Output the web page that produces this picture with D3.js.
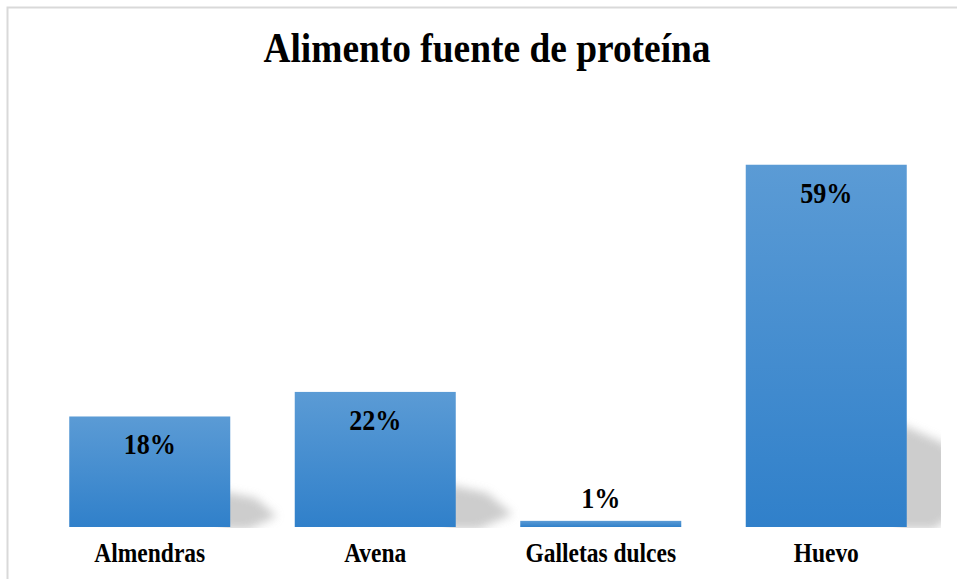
<!DOCTYPE html>
<html>
<head>
<meta charset="utf-8">
<script src="https://cdn.jsdelivr.net/npm/d3@7"></script>
<style>
  body { margin: 0; background: #fff; }
  svg { display: block; }
</style>
</head>
<body>
<svg id="chart" width="957" height="579"></svg>
<script>
// chart data
const categories = ["Almendras", "Avena", "Galletas dulces", "Huevo"];
const values = [18, 22, 1, 59];
const valueLabels = ["18%", "22%", "1%", "59%"];
const titleText = "Alimento fuente de proteína";

const width = 957, height = 579;
const font = "'Liberation Serif', 'Times New Roman', serif";
const svg = d3.select("#chart");

// the source text is drawn a bit narrow/tall, so squeeze it horizontally
const squeeze = 0.87;
function addText(parent, x, y, size, str) {
    return parent.append("text")
        .attr("transform", `translate(${x},${y}) scale(${squeeze},1)`)
        .attr("text-anchor", "middle")
        .attr("font-family", font)
        .attr("font-weight", "bold")
        .attr("font-size", size)
        .attr("fill", "#000")
        .text(str);
}

// frame (runs off the right and bottom edges like the source)
svg.append("rect")
    .attr("x", 7.5).attr("y", 7.5)
    .attr("width", 980).attr("height", 600)
    .attr("fill", "#fff")
    .attr("stroke", "#d9d9d9")
    .attr("stroke-width", 2);

const defs = svg.append("defs");
const grad = defs.append("linearGradient")
    .attr("id", "barGrad")
    .attr("x1", "0%").attr("y1", "0%")
    .attr("x2", "0%").attr("y2", "100%");
grad.append("stop").attr("offset", "0%").attr("stop-color", "#5b9bd5");
grad.append("stop").attr("offset", "100%").attr("stop-color", "#3080ca");

defs.append("filter").attr("id", "blur")
    .attr("x", "-50%").attr("y", "-50%").attr("width", "200%").attr("height", "200%")
    .append("feGaussianBlur").attr("stdDeviation", 5);

// scales
const x = d3.scaleBand()
    .domain(categories)
    .range([37, 939])
    .paddingInner(0.286)
    .paddingOuter(0.143);

const baseline = 527;
const y = d3.scaleLinear()
    .domain([0, 100])
    .range([baseline, baseline - 614]);

// title
addText(svg, 487, 62, 43, titleText);

const data = categories.map((c, i) => ({ c, v: values[i], label: valueLabels[i] }));

// perspective shadows to the lower right of each bar
defs.append("clipPath").attr("id", "plotClip")
    .append("rect").attr("x", 0).attr("y", 0).attr("width", 941).attr("height", baseline + 1);

const shadows = svg.append("g").attr("clip-path", "url(#plotClip)");
data.forEach(d => {
    const h = baseline - y(d.v);
    if (h < 10) return;
    const x1 = x(d.c) + x.bandwidth();
    const sh = 0.27 * h + 6;
    const sw = Math.min(0.42 * h, 70);
    const pts = [
        [x1 - 8, baseline - sh],
        [x1 + sw * 0.55, baseline - sh * 0.8],
        [x1 + sw, baseline - sh * 0.3],
        [x1 + sw * 0.4, baseline + 2],
        [x1 - 8, baseline + 2]
    ];
    shadows.append("path")
        .attr("d", d3.line()(pts) + "Z")
        .attr("fill", "#b8b8b8")
        .attr("opacity", 0.7)
        .attr("filter", "url(#blur)");
});

// bars
svg.append("g").selectAll("rect")
    .data(data)
    .join("rect")
    .attr("x", d => x(d.c))
    .attr("y", d => y(d.v))
    .attr("width", x.bandwidth())
    .attr("height", d => baseline - y(d.v))
    .attr("fill", "url(#barGrad)");

// value labels: inside end, or above when the bar is too short
const valG = svg.append("g");
data.forEach(d => {
    const h = baseline - y(d.v);
    const ly = h > 45 ? y(d.v) + 38 : y(d.v) - 13;
    addText(valG, x(d.c) + x.bandwidth() / 2, ly, 30, d.label);
});

// category axis (labels only)
const xAxis = svg.append("g")
    .attr("transform", `translate(0,${baseline})`)
    .call(d3.axisBottom(x).tickSize(0).tickPadding(0));
xAxis.select(".domain").remove();
xAxis.selectAll("text")
    .attr("font-family", font)
    .attr("font-weight", "bold")
    .attr("font-size", 27)
    .attr("fill", "#000")
    .attr("dy", 0)
    .attr("y", 0)
    .attr("transform", `translate(0,35) scale(${squeeze},1)`);
</script>
</body>
</html>
